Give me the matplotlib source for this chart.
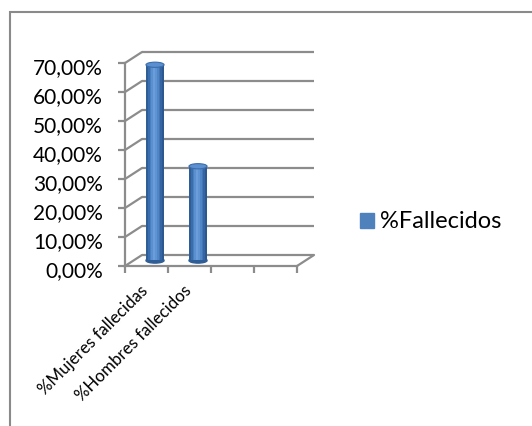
import numpy as np
import matplotlib.pyplot as plt
from matplotlib.patches import Ellipse, Rectangle, Patch
from matplotlib.transforms import ScaledTranslation
from matplotlib.ticker import FuncFormatter, FixedLocator

# Datos
categorias = ['%Mujeres fallecidas', '%Hombres fallecidos', '', '']
fallecidos = [67.5, 32.5, np.nan, np.nan]
serie = '%Fallecidos'
y_ticks = np.arange(0, 71, 10)

plt.rcParams['font.family'] = ['Lato', 'DejaVu Sans']

fig = plt.figure(figsize=(5.32, 4.26), dpi=100)
ax = fig.add_axes([0.235, 0.3756, 0.3233, 0.4765])
n = len(categorias)
ax.set_xlim(-0.5, n - 0.5)
ax.set_ylim(0, 70)

grid_col = '#8c8c8c'
# desplazamientos de profundidad (pulgadas)
back = ax.transData + ScaledTranslation(0.17, 0.11, fig.dpi_scale_trans)
mid = ax.transData + ScaledTranslation(0.085, 0.055, fig.dpi_scale_trans)

# pared del fondo y pared lateral
for v in y_ticks:
    ax.plot([-0.5, n - 0.5], [v, v], color=grid_col, lw=1.6, transform=back,
            clip_on=False, zorder=1, solid_capstyle='butt')
    ax.annotate('', xy=(-0.5, v), xycoords=back, xytext=(-0.5, v),
                textcoords=ax.transData,
                arrowprops=dict(arrowstyle='-', color=grid_col, lw=1.6,
                                shrinkA=0, shrinkB=0))
# suelo: lado derecho
ax.annotate('', xy=(n - 0.5, 0), xycoords=back, xytext=(n - 0.5, 0),
            textcoords=ax.transData,
            arrowprops=dict(arrowstyle='-', color=grid_col, lw=1.6,
                            shrinkA=0, shrinkB=0))

# cilindros
width = 0.42
shades = ['#2f5d96', '#3a6dab', '#4a80c0', '#5b90d0', '#6a9dd9', '#5f94d3',
          '#5086c6', '#4276b6', '#3565a3', '#2b5890']
for i, val in enumerate(fallecidos):
    if np.isnan(val):
        continue
    sw = width / len(shades)
    for k, c in enumerate(shades):
        ax.bar(i - width / 2 + sw * (k + 0.5), val, width=sw * 1.05, color=c,
               transform=mid, clip_on=False, zorder=3, linewidth=0)
    ax.add_patch(Ellipse((i, 0), width, 1.8, color='#2f5d96', transform=mid,
                         clip_on=False, zorder=2.9))
    ax.add_patch(Ellipse((i, val), width, 1.8, facecolor='#5b8fcf',
                         edgecolor='#3a6dab', lw=0.8, transform=mid,
                         clip_on=False, zorder=4))

# ejes
for s in ['top', 'right']:
    ax.spines[s].set_visible(False)
for s in ['left', 'bottom']:
    ax.spines[s].set_color(grid_col)
    ax.spines[s].set_linewidth(1.6)
ax.set_facecolor('none')
ax.yaxis.set_major_locator(FixedLocator(y_ticks))
ax.yaxis.set_major_formatter(FuncFormatter(lambda v, p: f'{v:.2f}'.replace('.', ',') + '%'))
ax.tick_params(axis='y', length=5, width=1.6, color=grid_col, pad=11,
               labelsize=15, labelcolor='black')
for lbl in ax.get_yticklabels():
    lbl.set_transform(lbl.get_transform() +
                      ScaledTranslation(0, -0.03, fig.dpi_scale_trans))
ax.set_xticks(np.arange(-0.5, n), minor=False)
ax.set_xticklabels([])
ax.tick_params(axis='x', which='major', length=5, width=1.6, color=grid_col)
ax.set_xticks(np.arange(n), minor=True)
ax.set_xticklabels(categorias, minor=True, rotation=45, ha='right', va='top',
                   rotation_mode='anchor', fontsize=12.2)
ax.tick_params(axis='x', which='minor', length=0, pad=12)
for lbl in ax.get_xticklabels(minor=True):
    lbl.set_transform(lbl.get_transform() +
                      ScaledTranslation(-0.065, 0, fig.dpi_scale_trans))

# leyenda
fig.legend(handles=[Patch(color='#4f81bd')], labels=[serie],
           loc='center left', bbox_to_anchor=(0.677, 0.479), frameon=False,
           fontsize=17, handlelength=0.6, handleheight=0.6,
           handletextpad=0.25, borderaxespad=0, borderpad=0)

# borde del gráfico
fig.patches.append(Rectangle((10 / 532, -0.1), 1.2, 1.1 - 12 / 426,
                             transform=fig.transFigure, fill=False,
                             edgecolor='#8a8a8a', lw=1.5))

fig.savefig('out.png', dpi=100)
